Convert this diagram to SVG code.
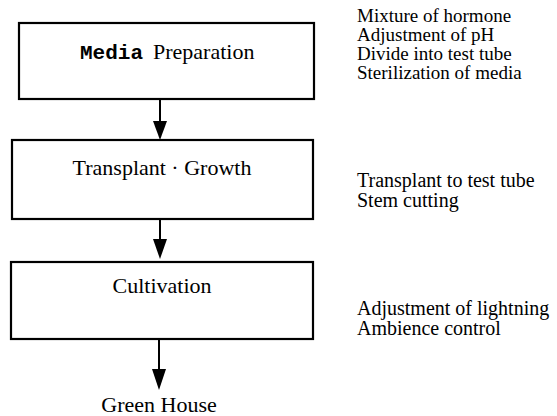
<svg xmlns="http://www.w3.org/2000/svg" width="557" height="416" viewBox="0 0 557 416">
<style>
.box{fill:#fff;stroke:#000;stroke-width:2.2}
.lbl{font-family:"Liberation Serif","Times New Roman",serif;font-size:22px;fill:#000;text-anchor:middle}
.mono{font-family:"Liberation Mono","Courier New",monospace;font-weight:bold}
.note{font-family:"Liberation Serif","Times New Roman",serif;font-size:20px;fill:#000}
.small{font-size:19px}
.conn{stroke:#000;stroke-width:2;fill:none}
.head{fill:#000}
</style>
<rect width="557" height="416" fill="#fff"/>
<g id="connectors">
<line class="conn" x1="160" y1="100" x2="160" y2="122"/>
<path class="head" d="M153,121 L167,121 L160,140 Z"/>
<line class="conn" x1="160" y1="219" x2="160" y2="240"/>
<path class="head" d="M153,239 L167,239 L160,259 Z"/>
<line class="conn" x1="159" y1="340" x2="159" y2="370"/>
<path class="head" d="M152,369 L166,369 L159,390 Z"/>
</g>
<g id="media-preparation">
<rect class="box" x="19" y="23" width="295" height="76"/>
<text class="lbl" y="59" style="text-anchor:start"><tspan class="mono" x="80" font-size="21">Media</tspan><tspan x="153">Preparation</tspan></text>
</g>
<g id="transplant-growth">
<rect class="box" x="12" y="140" width="301" height="79"/>
<text class="lbl" x="162" y="175">Transplant · Growth</text>
</g>
<g id="cultivation">
<rect class="box" x="11" y="262" width="302" height="77"/>
<text class="lbl" x="162" y="293">Cultivation</text>
</g>
<g id="green-house">
<text class="lbl" x="159" y="412">Green House</text>
</g>
<g id="notes">
<text class="note small" x="357" y="22">Mixture of hormone</text>
<text class="note small" x="357" y="41">Adjustment of pH</text>
<text class="note small" x="357" y="60">Divide into test tube</text>
<text class="note small" x="357" y="79">Sterilization of media</text>
<text class="note" x="357" y="187">Transplant to test tube</text>
<text class="note" x="357" y="207">Stem cutting</text>
<text class="note" x="357" y="315">Adjustment of lightning</text>
<text class="note" x="357" y="335">Ambience control</text>
</g>
</svg>
